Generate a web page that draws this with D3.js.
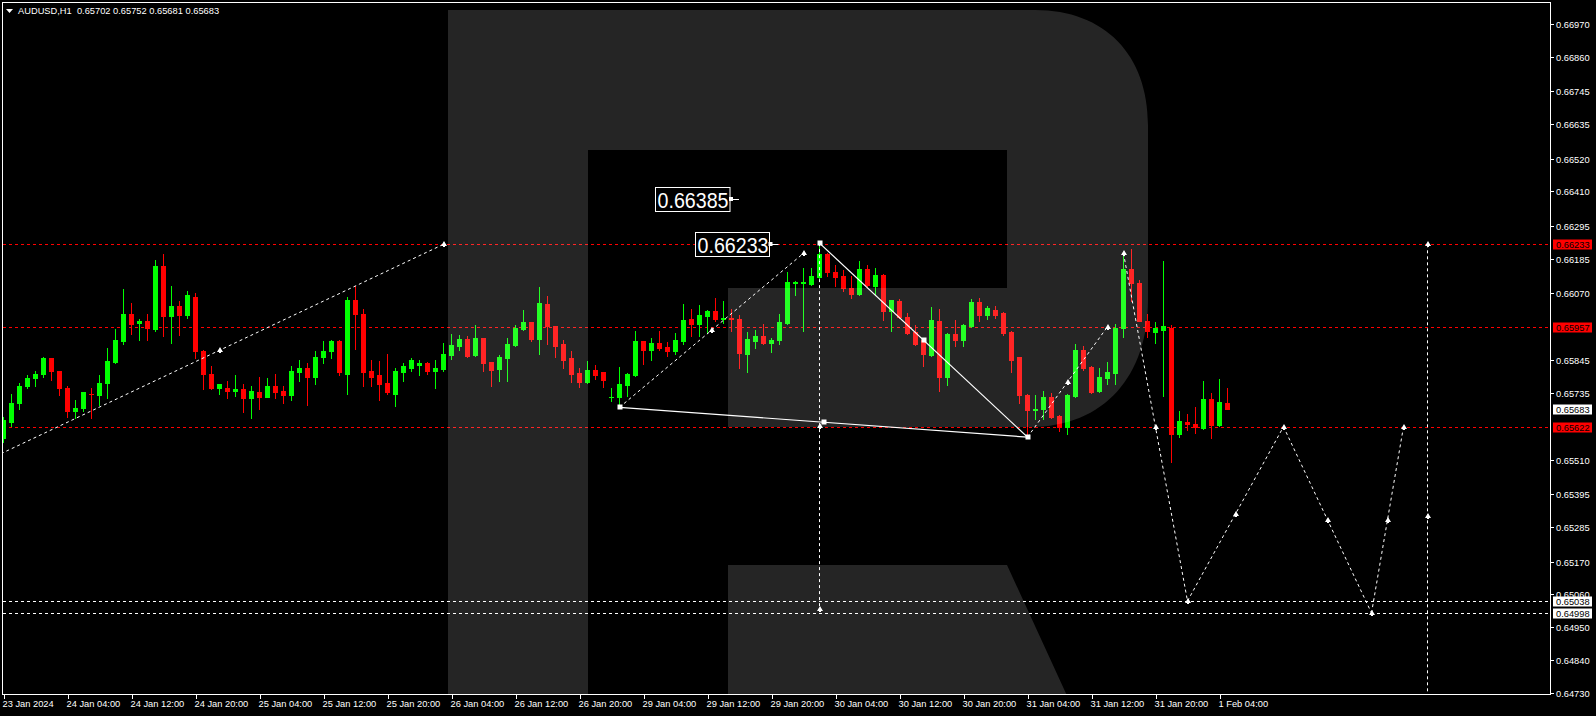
<!DOCTYPE html>
<html><head><meta charset="utf-8">
<script src="https://cdn.jsdelivr.net/npm/d3@7"></script>
<style>body{margin:0;background:#000;overflow:hidden}svg{display:block}</style>
</head><body><svg id="c" width="1596" height="716"></svg>
<script>
// ---------- data ----------
const opens = [.65584,.65639,.65703,.65757,.65785,.65797,.65851,.65807,.65753,.65673,.65684,.65733,.65727,.65768,.65838,.65909,.66001,.65969,.65975,.65949,
.66159,.65992,.66028,.65995,.66058,.65877,.65800,.65753,.65753,.65740,.65747,.65718,.65737,.65723,.65760,.65740,.65727,.65804,.65820,.65790,
.65854,.65874,.65908,.65800,.66048,.66001,.65807,.65794,.65767,.65733,.65804,.65820,.65830,.65837,.65810,.65817,.65861,.65891,.65915,.65861,
.65918,.65838,.65814,.65851,.65895,.65948,.65972,.65915,.66032,.65958,.65898,.65851,.65801,.65771,.65811,.65804,.65720,.65720,.65761,.65794,
.65908,.65878,.65901,.65888,.65875,.65908,.65982,.65965,.65992,.66009,.65982,.65985,.65982,.65865,.65908,.65925,.65901,.65911,.65968,.66104,
.66102,.66100,.66125,.66201,.66140,.66127,.66087,.66067,.66150,.66093,.66130,.66010,.66043,.65989,.65939,.65912,.65862,.65976,.65788,.65932,
.65912,.65959,.66040,.65996,.66013,.66003,.65939,.65855,.65728,.65678,.65681,.65721,.65658,.65621,.65725,.65879,.65822,.65741,.65785,.65802,
.65954,.66151,.66105,.65977,.65940,.65946,.65953,.65598,.65638,.65631,.65618,.65715,.65628,.65702];
const highs = [.65656,.65730,.65770,.65796,.65807,.65857,.65853,.65810,.65758,.65710,.65737,.65753,.65794,.65887,.65948,.66082,.66038,.65983,.66001,.66182,
.66199,.66095,.66042,.66078,.66071,.65878,.65824,.65764,.65774,.65794,.65764,.65757,.65787,.65784,.65800,.65760,.65827,.65844,.65837,.65874,
.65908,.65914,.65914,.66058,.66092,.66015,.65847,.65841,.65864,.65820,.65834,.65851,.65844,.65838,.65844,.65904,.65932,.65928,.65925,.65962,
.65920,.65840,.65861,.65918,.65962,.66012,.65974,.66089,.66059,.65960,.65911,.65875,.65818,.65841,.65828,.65806,.65751,.65821,.65801,.65942,
.65910,.65918,.65942,.65905,.65935,.66032,.66015,.66029,.66012,.66052,.66042,.66015,.65995,.65938,.65945,.65965,.65918,.65999,.66139,.66110,
.66153,.66153,.66233,.66205,.66164,.66147,.66127,.66177,.66164,.66154,.66133,.66048,.66050,.66003,.65963,.65915,.66023,.66016,.65935,.65979,
.65966,.66050,.66053,.66026,.66026,.66005,.65941,.65857,.65730,.65728,.65741,.65735,.65661,.65731,.65899,.65892,.65825,.65819,.65839,.65966,
.66203,.66217,.66114,.66000,.65973,.66178,.65963,.65675,.65665,.65688,.65775,.65735,.65782,.65752];
const lows = [.65572,.65624,.65680,.65751,.65757,.65788,.65777,.65727,.65654,.65651,.65674,.65651,.65696,.65718,.65836,.65899,.65932,.65914,.65912,.65942,
.65925,.65902,.65928,.65986,.65852,.65748,.65747,.65733,.65718,.65724,.65671,.65651,.65680,.65722,.65718,.65703,.65713,.65774,.65696,.65764,
.65837,.65851,.65794,.65733,.65881,.65760,.65757,.65710,.65733,.65693,.65774,.65810,.65794,.65800,.65753,.65810,.65848,.65878,.65854,.65858,
.65808,.65757,.65774,.65774,.65893,.65945,.65908,.65865,.65898,.65854,.65818,.65771,.65754,.65769,.65781,.65754,.65707,.65694,.65724,.65792,
.65831,.65844,.65878,.65858,.65865,.65898,.65925,.65925,.65935,.65975,.65968,.65942,.65818,.65804,.65885,.65899,.65871,.65898,.65966,.66063,
.65944,.66098,.66120,.66128,.66094,.66077,.66053,.66063,.66095,.66063,.65979,.65943,.65986,.65932,.65896,.65824,.65860,.65741,.65762,.65892,
.65892,.65956,.65976,.65983,.65986,.65929,.65805,.65701,.65594,.65648,.65648,.65652,.65607,.65597,.65723,.65812,.65735,.65738,.65765,.65765,
.65921,.66044,.65975,.65923,.65903,.65725,.65504,.65588,.65611,.65601,.65615,.65585,.65626,.65681];
const closes = [.65643,.65702,.65760,.65784,.65800,.65851,.65807,.65751,.65673,.65686,.65737,.65731,.65770,.65841,.65911,.66001,.65966,.65976,.65951,.66159,
.65992,.66025,.65995,.66062,.65875,.65798,.65753,.65764,.65740,.65747,.65718,.65740,.65723,.65757,.65737,.65727,.65807,.65820,.65787,.65857,
.65877,.65908,.65804,.66048,.65998,.65804,.65790,.65764,.65737,.65807,.65824,.65847,.65837,.65810,.65820,.65864,.65895,.65915,.65858,.65918,
.65834,.65811,.65854,.65898,.65952,.65972,.65915,.66035,.65958,.65891,.65844,.65798,.65771,.65811,.65794,.65777,.65723,.65764,.65798,.65908,
.65878,.65901,.65885,.65875,.65911,.65978,.65965,.65995,.66009,.65982,.65985,.65984,.65868,.65915,.65925,.65901,.65911,.65972,.66106,.66107,
.66106,.66127,.66201,.66139,.66124,.66087,.66067,.66150,.66097,.66130,.66010,.66046,.65989,.65936,.65899,.65866,.65979,.65788,.65932,.65912,
.65963,.66040,.65996,.66020,.65996,.65936,.65845,.65728,.65678,.65682,.65721,.65654,.65621,.65728,.65879,.65819,.65738,.65788,.65805,.65953,
.66151,.66105,.65977,.65943,.65953,.65958,.65598,.65641,.65631,.65621,.65715,.65628,.65705,.65683];

const timeTickBars   = [0,8,16,24,32,40,48,56,64,72,80,88,96,104,112,120,128,136,144,152];
const timeTickLabels = ["23 Jan 2024","24 Jan 04:00","24 Jan 12:00","24 Jan 20:00","25 Jan 04:00","25 Jan 12:00","25 Jan 20:00",
  "26 Jan 04:00","26 Jan 12:00","26 Jan 20:00","29 Jan 04:00","29 Jan 12:00","29 Jan 20:00","30 Jan 04:00","30 Jan 12:00",
  "30 Jan 20:00","31 Jan 04:00","31 Jan 12:00","31 Jan 20:00","1 Feb 04:00"];
const priceTicks = [0.66970,0.66860,0.66745,0.66635,0.66520,0.66410,0.66295,0.66185,0.66070,0.65845,0.65735,0.65510,0.65395,0.65285,0.65170,0.65060,0.64950,0.64840,0.64730];
const redLevels = [0.66233,0.65957,0.65622];
const whiteLevels = [0.65038,0.64998];
const lastPrice = 0.65683;
const header = "AUDUSD,H1  0.65702 0.65752 0.65681 0.65683";

// analysis objects (bar index, price)
const dashedSegments = [
  [[-1,0.65523],[55,0.66233]],
  [[77,0.65687],[100,0.66203]],
  [[102,0.66237],[102,0.65011]],
  [[128,0.65587],[138,0.65957]],
  [[140,0.66203],[148,0.65038]],
  [[148,0.65038],[160,0.65622]],
  [[160,0.65622],[171,0.64998]],
  [[171,0.64998],[175,0.65622]],
  [[178,0.66233],[178,0.64413]]
];
const solidSegments = [
  [[77,0.65687],[128,0.65587]],
  [[102,0.66237],[128,0.65587]]
];
const squarePoints = [[77,0.65687],[102.5,0.65637],[128,0.65587],[102,0.66237],[115,0.65912]];
const arrowPoints = [[27,0.65878],[55,0.66233],[88.5,0.65945],[100,0.66203],[102,0.65624],[102,0.65011],
  [133,0.65772],[138,0.65957],[140,0.66203],[144,0.65620],[148,0.65038],[154,0.65330],[160,0.65622],
  [165.5,0.65310],[171,0.64998],[173,0.65310],[175,0.65622],[178,0.66233],[178,0.65323]];
const priceBoxes = [[0.66385,"0.66385",655.5,730],[0.66233,"0.66233",695.5,769.5]];

// ---------- chart ----------
const svg = d3.select("#c");
const PL=2.5, PR=1550.5, PT=2.5, PB=694.5;
const x = d3.scaleLinear().domain([0,1]).range([3.5,11.5]);
const y = d3.scaleLinear().domain([0.64730,0.66970]).range([693,24.3]);
const FONT = "'Liberation Sans', Arial, sans-serif";

svg.append("rect").attr("width",1596).attr("height",716).attr("fill","#000");
svg.append("defs").append("clipPath").attr("id","plot").append("rect")
  .attr("x",PL).attr("y",PT).attr("width",PR-PL).attr("height",PB-PT);
const g = svg.append("g").attr("clip-path","url(#plot)");

// level lines
redLevels.forEach(p=>{
  const yy=Math.round(y(p))+0.5;
  g.append("line").attr("x1",PL).attr("x2",PR).attr("y1",yy).attr("y2",yy)
    .attr("stroke","#ff0000").attr("stroke-dasharray","3,3").attr("shape-rendering","crispEdges");
});
whiteLevels.forEach(p=>{
  const yy=Math.round(y(p))+0.5;
  g.append("line").attr("x1",PL).attr("x2",PR).attr("y1",yy).attr("y2",yy)
    .attr("stroke","#fff").attr("stroke-dasharray","3,3").attr("shape-rendering","crispEdges");
});

// candles
const candles = d3.range(opens.length).map(i=>({i,o:opens[i],h:highs[i],l:lows[i],c:closes[i]}));
const cg = g.append("g").attr("shape-rendering","crispEdges");
candles.forEach(d=>{
  const col = d.c>=d.o ? "#00ff00" : "#ff0000";
  const cx = x(d.i);
  cg.append("line").attr("x1",cx).attr("x2",cx)
    .attr("y1",Math.round(y(d.h))).attr("y2",Math.round(y(d.l))+1).attr("stroke",col);
  const yt=Math.round(y(Math.max(d.o,d.c))), yb=Math.round(y(Math.min(d.o,d.c)));
  cg.append("rect").attr("x",cx-2.5).attr("y",yt).attr("width",5).attr("height",Math.max(1,yb-yt+1)).attr("fill",col);
});

// analysis objects
const line = d3.line().x(p=>x(p[0])).y(p=>y(p[1]));
dashedSegments.forEach(s=>g.append("path").attr("d",line(s)).attr("fill","none")
  .attr("stroke","#fff").attr("stroke-width",1).attr("stroke-dasharray","3,3"));
solidSegments.forEach(s=>g.append("path").attr("d",line(s)).attr("fill","none")
  .attr("stroke","#fff").attr("stroke-width",1.2));
squarePoints.forEach(p=>g.append("rect").attr("x",Math.round(x(p[0]))-2.5).attr("y",Math.round(y(p[1]))-2.5)
  .attr("width",5).attr("height",5).attr("fill","#fff"));
arrowPoints.forEach(p=>{
  const ax=Math.round(x(p[0])), ay=Math.round(y(p[1]));
  g.append("path").attr("d",`M${ax-3},${ay+2}L${ax},${ay-3}L${ax+3},${ay+2}L${ax+1},${ay+2}L${ax+1},${ay+3}L${ax-1},${ay+3}L${ax-1},${ay+2}Z`)
    .attr("fill","#fff");
});

// price text boxes
priceBoxes.forEach(b=>{
  const yy=y(b[0]);
  g.append("rect").attr("x",b[2]).attr("y",Math.round(yy)-11.5).attr("width",b[3]-b[2]).attr("height",24)
    .attr("fill","#000").attr("stroke","#fff").attr("stroke-width",1);
  g.append("text").attr("x",b[2]+2).attr("y",Math.round(yy)+9).attr("fill","#fff")
    .attr("font-family",FONT).attr("font-size",22).attr("textLength",71).attr("lengthAdjust","spacingAndGlyphs").text(b[1]);
  g.append("rect").attr("x",b[3]-1).attr("y",Math.round(yy)-2).attr("width",4).attr("height",4).attr("fill","#fff");
  g.append("line").attr("x1",b[3]).attr("x2",b[3]+9).attr("y1",Math.round(yy)+0.5).attr("y2",Math.round(yy)+0.5).attr("stroke","#fff");
});

// logo overlay (RoboForex R)
g.append("path").attr("d",
  "M448,10 L1035,10 C1105,10 1148,55 1148,125 L1148,300 C1148,375 1105,427 1030,427 L728,427 L728,288 L1007,288 L1007,150 L588,150 L588,700 L448,700 Z " +
  "M728,565 L1007,565 L1069,700 L728,700 Z")
  .attr("fill","#fff").attr("fill-opacity",0.145);

// frame
svg.append("path").attr("d",`M${PL},${PT}L${PR},${PT}L${PR},${PB}L${PL},${PB}Z`).attr("fill","none")
  .attr("stroke","#fff").attr("shape-rendering","crispEdges");

// price axis
priceTicks.forEach(p=>{
  const yy=Math.round(y(p))+0.5;
  svg.append("line").attr("x1",PR).attr("x2",PR+3).attr("y1",yy).attr("y2",yy).attr("stroke","#fff").attr("shape-rendering","crispEdges");
  svg.append("text").attr("x",1556).attr("y",yy+3.4).attr("fill","#fff").attr("font-family",FONT).attr("font-size",9.3).text(p.toFixed(5));
});
function tag(p,bg,fg){
  const yy=Math.round(y(p));
  svg.append("rect").attr("x",1553).attr("y",yy-4.5).attr("width",39).attr("height",10).attr("fill",bg);
  svg.append("text").attr("x",1556).attr("y",yy+3.9).attr("fill",fg).attr("font-family",FONT).attr("font-size",9.3).text(p.toFixed(5));
}
redLevels.forEach(p=>tag(p,"#ff0000","#000"));
whiteLevels.forEach(p=>tag(p,"#fff","#000"));
tag(lastPrice,"#fff","#000");

// time axis
timeTickBars.forEach((b,k)=>{
  const xx=Math.round(x(b))+0.5;
  svg.append("line").attr("x1",xx).attr("x2",xx).attr("y1",PB).attr("y2",PB+4).attr("stroke","#fff").attr("shape-rendering","crispEdges");
  svg.append("text").attr("x",xx-2).attr("y",706.5).attr("fill","#fff").attr("font-family",FONT).attr("font-size",9.3).text(timeTickLabels[k]);
});

// header
svg.append("path").attr("d","M6,9L13,9L9.5,13Z").attr("fill","#fff");
svg.append("text").attr("x",18).attr("y",14).attr("fill","#fff").attr("font-family",FONT).attr("font-size",9.3)
  .attr("xml:space","preserve").style("white-space","pre").text(header);
</script>
</body></html>
